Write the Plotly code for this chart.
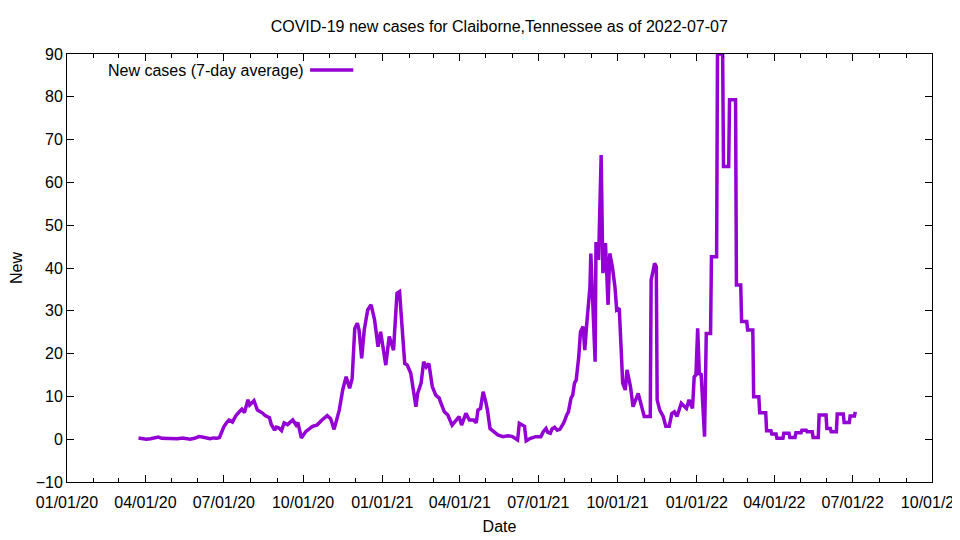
import pandas as pd
import plotly.graph_objects as go

# days since 2020-01-01 and 7-day average of new cases
# one line of day_offset goes with the same line of new_cases
day_offset = [
    83, 87, 92, 97, 102, 106, 110, 116, 122, 128, 134, 138, 143, 148, 153, 157, 162, 166, 170, 174, 177,
    182, 185, 188, 192, 196, 200, 203, 206, 210, 212, 214, 217, 221, 224, 227, 230, 235, 237, 241, 243,
    246, 249, 252, 256, 262, 266, 268, 272, 277, 285, 290, 296, 302, 306, 310,
    316, 320, 324, 328, 331, 334, 337, 339, 342, 345, 349, 353, 357, 361, 364, 367, 370, 374, 379, 383,
    386, 390, 392, 395, 399, 402, 405, 407, 411, 414, 417, 420, 424, 428, 432, 434, 438, 442, 447,
    452, 455, 458, 463, 467, 472, 475, 477, 480, 483, 486, 488, 491, 496, 500,
    506, 512, 517, 523, 525, 531, 533, 538, 544, 550, 553, 556, 558, 561, 563, 566, 569, 572, 575, 577,
    580, 582, 585, 587, 589, 591, 594, 596, 599, 601, 603,
    607, 608, 610, 613, 614, 617, 620, 622, 625, 628, 630, 633, 636, 638, 641, 643, 645, 648, 650, 654,
    657, 663, 667, 670, 677,
    678, 680, 682, 684, 685, 688, 692, 695, 699, 702, 705, 708, 713, 719, 722, 726, 728, 730, 732, 734, 736, 740,
    742, 747, 748, 754, 755, 761, 762, 768, 769, 776, 777, 782, 783, 789, 790, 796, 797, 803, 804, 811,
    812, 817, 818, 823, 824, 831, 832, 838, 839, 845, 846, 852, 853, 858, 859, 865, 866, 872, 873, 881,
    882, 886, 887, 893, 894, 901, 902, 908, 909, 914, 915,
]
new_cases = [
    0.3, 0.2, 0.0, 0.1, 0.4, 0.5, 0.2, 0.1, 0.0, 0.1, 0.3, 0.2, 0.0, 0.2, 0.6, 0.5, 0.3, 0.1, 0.3, 0.2, 0.4,
    2.9, 3.8, 4.5, 4.0, 5.5, 6.4, 7.0, 6.2, 9.2, 8.0, 8.5, 9.0, 6.8, 6.5, 6.1, 5.5, 5.0, 3.5, 2.1, 2.8,
    2.6, 2.0, 3.8, 3.4, 4.5, 3.3, 3.9, 0.3, 1.75, 3.0, 3.3, 4.5, 5.5, 4.8, 2.3,
    6.8, 11.5, 14.6, 11.9, 14.2, 25.9, 27.1, 25.5, 18.9, 25.5, 30.2, 31.4, 27.9, 21.6, 25.1, 20.4, 17.3, 24.0, 20.8, 34.1,
    34.5, 23.2, 17.7, 17.3, 15.4, 11.5, 7.6, 10.7, 13.1, 18.1, 16.9, 17.7, 12.3, 10.3, 9.6, 8.4, 6.4, 5.65, 3.3,
    4.5, 5.3, 3.3, 6.05, 4.5, 4.5, 3.85, 6.8, 7.2, 11.1, 8.8, 6.8, 2.5, 1.75, 1.0,
    0.6, 0.8, 0.6, -0.2, 3.7, 3.0, -0.4, 0.2, 0.6, 0.6, 1.8, 2.5, 1.6, 1.4, 2.4, 2.8, 2.1, 2.3, 3.3, 4.0,
    5.65, 6.4, 9.6, 10.3, 13.1, 13.8, 19.3, 25.1, 26.3, 20.8, 26.3,
    35.6, 43.4, 34.9, 18.1, 46.1, 41.9, 66.4, 38.8, 45.8, 31.4, 43.4, 40.3, 35.6, 30.2, 30.6, 23.2, 13.1, 11.5, 16.2, 12.3,
    7.6, 10.7, 7.6, 5.3, 5.3,
    37.2, 39.1, 41.1, 40.3, 9.2, 6.8, 5.3, 3.0, 3.0, 6.0, 6.4, 5.3, 8.4, 7.2, 9.2, 7.2, 14.6, 15.0, 25.9, 15.0, 15.4, 0.6,
    24.7, 24.7, 42.6, 42.6, 90.0, 90.0, 63.7, 63.7, 79.3, 79.3, 36.0, 36.0, 27.5, 27.5, 25.5, 25.5, 9.9, 9.9, 6.2, 6.2,
    2.0, 2.0, 1.2, 1.2, 0.2, 0.2, 1.4, 1.4, 0.4, 0.4, 1.5, 1.5, 2.1, 2.1, 1.75, 1.75, 0.4, 0.4, 5.65, 5.65,
    2.5, 2.5, 1.75, 1.75, 5.9, 5.9, 3.9, 3.9, 5.4, 5.4, 6.4,
]
assert len(day_offset) == len(new_cases)

dates = pd.Timestamp("2020-01-01") + pd.to_timedelta(day_offset, unit="D")
df = pd.DataFrame(dict(date=dates, new=new_cases))

purple = "#9400D3"
font = "Liberation Sans, Arial, sans-serif"

fig = go.Figure()
fig.add_trace(go.Scatter(x=df["date"], y=df["new"], mode="lines",
                         line=dict(color=purple, width=3.5),
                         name="New cases (7-day average)", showlegend=False))

axis_style = dict(
    showline=True, linecolor="black", linewidth=1, mirror="allticks",
    ticks="inside", ticklen=7, tickcolor="black", showgrid=False, zeroline=False,
    tickfont=dict(size=16, color="black"), automargin=False,
)

# the page body has an 8px margin, so the figure is a bit smaller than the window
fig.update_layout(
    width=952, height=532,
    paper_bgcolor="white", plot_bgcolor="white",
    font=dict(family=font, size=16, color="black"),
    margin=dict(l=59, r=28, t=46, b=58),
    title=dict(text="COVID-19 new cases for Claiborne,Tennessee as of 2022-07-07",
               x=0.516, xanchor="center", y=0.966, yanchor="middle",
               font=dict(size=16, color="black")),
    xaxis=dict(
        axis_style,
        type="date", range=["2020-01-01", "2022-10-01"],
        dtick="M3", tick0="2020-01-01", tickformat="%m/%d/%y",
        ticklabelstandoff=6, ticklabeloverflow="allow",
        minor=dict(dtick="M1", ticks="inside", ticklen=4, tickcolor="black"),
        title=dict(text="Date", standoff=10, font=dict(size=16)),
    ),
    yaxis=dict(
        axis_style,
        range=[-10, 90], dtick=10,
        title=dict(text="New", standoff=9, font=dict(size=16)),
    ),
    dragmode=False,
)

# gnuplot-style key: text first, then the line sample
fig.add_annotation(xref="paper", yref="paper", x=0.2763, y=0.9626,
                   text="New cases (7-day average)", showarrow=False,
                   xanchor="right", yanchor="middle", font=dict(size=16, color="black"))
fig.add_shape(type="line", xref="paper", yref="paper",
              x0=0.281, x1=0.331, y0=0.9626, y1=0.9626,
              line=dict(color=purple, width=3.5))

fig.write_html("out.html")
